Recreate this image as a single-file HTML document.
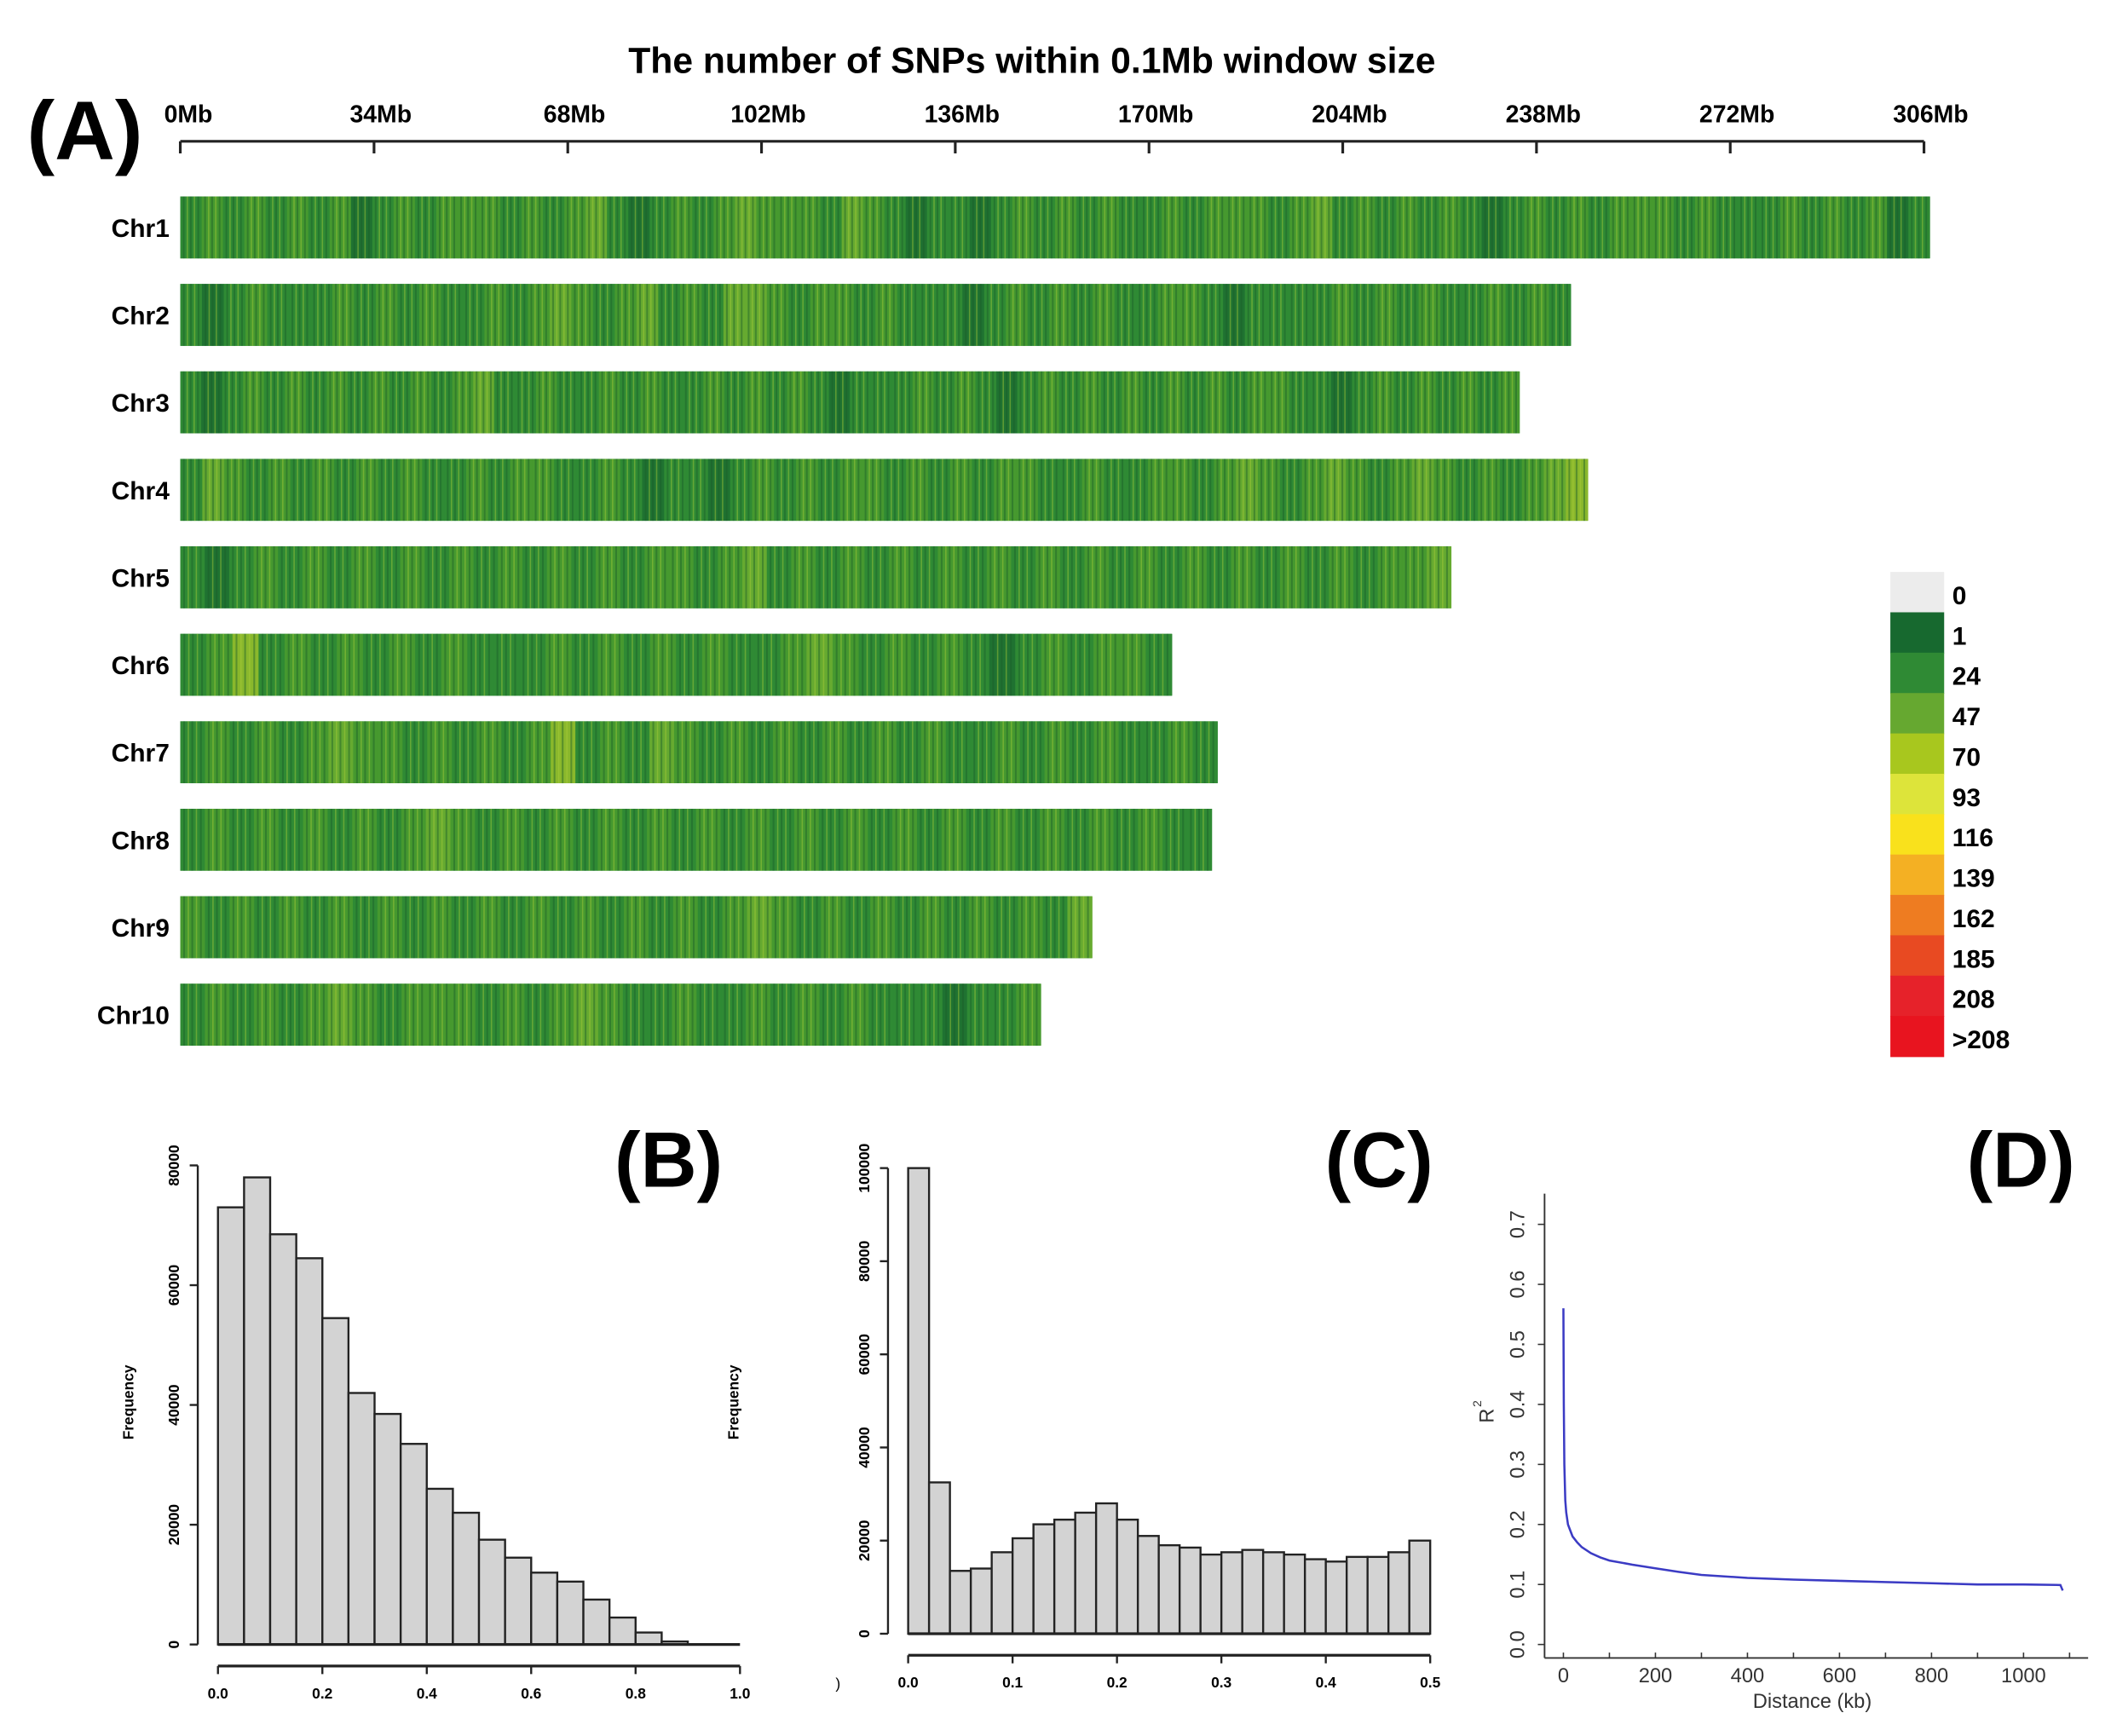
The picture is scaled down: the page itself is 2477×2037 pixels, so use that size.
<!DOCTYPE html>
<html><head><meta charset="utf-8"><style>
html,body{margin:0;padding:0;background:#fff;}
svg{display:block;font-family:"Liberation Sans",Arial,sans-serif;}
</style></head><body>
<svg id="fig" width="2477" height="2037" viewBox="0 0 1569 1290" preserveAspectRatio="none" xmlns="http://www.w3.org/2000/svg">
<rect width="1569" height="1290" fill="#fff"/>
<g id="panelA">
<text x="20" y="118" font-size="62" font-weight="bold">(A)</text>
<text x="767" y="54" font-size="27" font-weight="bold" text-anchor="middle">The number of SNPs within 0.1Mb window size</text>
<g id="axA"></g>
<g id="chroms"></g>
<g id="legend"></g>
</g>
<g id="panelB">
<text x="497" y="882" font-size="58" font-weight="bold" text-anchor="middle">(B)</text>
</g>
<g id="panelC">
<text x="1025" y="882" font-size="58" font-weight="bold" text-anchor="middle">(C)</text>
<text x="621" y="1255" font-size="11">)</text>
</g>
<g id="panelD">
<text x="1502" y="882" font-size="58" font-weight="bold" text-anchor="middle">(D)</text>
</g>
</svg>
<script>
// ---- Panel A data ----
const axisTicksMb = [0,34,68,102,136,170,204,238,272,306];
const chromNames = ["Chr1","Chr2","Chr3","Chr4","Chr5","Chr6","Chr7","Chr8","Chr9","Chr10"];
const chromLengthsMb = [307,244,235,247,223,174,182,181,160,151];
const chromDensity = [
"2323232312323332323421232343332432122123232322323332342323232123232333232223232312",
"2123222323232232343234232443233232221232323223321222232323223232",
"2123232323232342232232322323232122232321232323232323322123232323",
"2432323232322323322321221232323323232332232233234323432343232345",
"2123232323232323232332342323232323232323232323232334",
"23523232323222323232322343232321232332",
"232323433232323523243232323232322323232232",
"232323232343232323232323232323232323232322",
"3232323232323232323232343232323232324",
"23232343233323234322322323232221223"
];
const legendLabels = ["0","1","24","47","70","93","116","139","162","185","208",">208"];
const legendColors = ["#ececec","#17692f","#2f8a34","#66a830","#a8c71e","#dde43a","#f9e11c","#f4b023","#ee7c21","#e84a22","#e6222a","#e8141f"];
// ---- Panel B data ----
const bCounts = [73000,78000,68500,64500,54500,42000,38500,33500,26000,22000,17500,14500,12000,10500,7500,4500,2000,500,0,0];
const bYTicks = [0,20000,40000,60000,80000];
const bXTicks = ["0.0","0.2","0.4","0.6","0.8","1.0"];
// ---- Panel C data ----
const cCounts = [100000,32500,13500,14000,17500,20500,23500,24500,26000,28000,24500,21000,19000,18500,17000,17500,18000,17500,17000,16000,15500,16500,16500,17500,20000];
const cYTicks = [0,20000,40000,60000,80000,100000];
const cXTicks = ["0.0","0.1","0.2","0.3","0.4","0.5"];
// ---- Panel D data ----
const dDist = [0,1,2,4,6,10,15,20,30,40,60,80,100,150,200,250,300,400,500,600,700,800,900,1000,1080,1085];
const dR2 = [0.56,0.4,0.3,0.24,0.22,0.2,0.19,0.18,0.17,0.162,0.152,0.145,0.14,0.133,0.127,0.121,0.116,0.111,0.108,0.106,0.104,0.102,0.1,0.1,0.099,0.09];
const dYTicks = ["0.0","0.1","0.2","0.3","0.4","0.5","0.6","0.7"];
const dXTicks = [0,200,400,600,800,1000];

const NS="http://www.w3.org/2000/svg";
function mk(parent,tag,attrs,txt){const e=document.createElementNS(NS,tag);for(const k in attrs)e.setAttribute(k,attrs[k]);if(txt!==undefined)e.textContent=txt;parent.appendChild(e);return e;}

const xA = mb => 134 + mb*(1296/306);
const axA=document.getElementById('axA');
let l=mk(axA,'line',{x1:134,y1:105,x2:1430,y2:105,stroke:'#222','stroke-width':2});


axisTicksMb.forEach(v=>{
 let t=mk(axA,'line',{x1:xA(v),y1:105,x2:xA(v),y2:114,stroke:'#222','stroke-width':2});
 
 
 let tx=mk(axA,'text',{x:xA(v)+(v===0?6:5),y:91,'font-size':18,'font-weight':'bold','text-anchor':'middle'},v+'Mb');
 
 
});
const dcol={"1":"#1f7231","2":"#2f8a34","3":"#46992f","4":"#66aa30","5":"#8ab82c"};
const cg=document.getElementById('chroms');
chromNames.forEach((n,i)=>{
 const y=146+i*65;
 const g=mk(cg,'g',{});
 
 
 let lb=mk(g,'text',{x:126,y:y+30,'font-size':19,'font-weight':'bold','text-anchor':'end'},n);
 
 
 const x0=134,x1=xA(chromLengthsMb[i]);
 mk(g,'rect',{x:x0,y:y,width:x1-x0,height:46,fill:'#33903a'});
 const s=chromDensity[i];const w=(x1-x0)/s.length;
 for(let k=0;k<s.length;k++){
  const r=mk(g,'rect',{x:x0+k*w,y:y,width:w+0.3,height:46,fill:dcol[s[k]]});
  
  
 }
 for(let k=0;k<s.length;k++){
  [0.12,0.45,0.8].forEach(f=>mk(g,'rect',{x:x0+k*w+w*f,y:y,width:1.3,height:46,fill:'#1a5e2a',opacity:0.45}));
  [0.3,0.63].forEach(f=>mk(g,'rect',{x:x0+k*w+w*f,y:y,width:1,height:46,fill:'#a8cc3a',opacity:0.45}));
 }
});
const lg=document.getElementById('legend');
legendLabels.forEach((t,i)=>{
 const y=425+i*30;
 let r=mk(lg,'rect',{x:1405,y:y,width:40,height:30.5,fill:legendColors[i]});
 
 
 let tx=mk(lg,'text',{x:1451,y:y+24,'font-size':19,'font-weight':'bold'},t);
 
 
});

function hist(gid,counts,xL,xR,y0,yPerUnit,yTicks,axisX,xAxisY,xTicks,freqX){
 const g=document.getElementById(gid);
 const w=(xR-xL)/counts.length;
 counts.forEach((c,i)=>{
  const h=c*yPerUnit;
  const r=mk(g,'rect',{x:xL+i*w,y:y0-h,width:w,height:h,fill:'#d3d3d3',stroke:'#222','stroke-width':1.5});
  
  
 });
 mk(g,'line',{x1:xL,y1:y0,x2:xR,y2:y0,stroke:'#222','stroke-width':2});
 const ymax=yTicks[yTicks.length-1];
 let ya=mk(g,'line',{x1:axisX,y1:y0,x2:axisX,y2:y0-ymax*yPerUnit,stroke:'#222','stroke-width':1.5});
 
 
 yTicks.forEach(v=>{
  const y=y0-v*yPerUnit;
  mk(g,'line',{x1:axisX-6,y1:y,x2:axisX,y2:y,stroke:'#222','stroke-width':1.5});
  let t=mk(g,'text',{x:axisX-14,y:y,'font-size':11,'font-weight':'bold','text-anchor':'middle',transform:`rotate(-90 ${axisX-14} ${y})`},String(v));
  
  
 });
 let xa=mk(g,'line',{x1:xL,y1:xAxisY,x2:xR,y2:xAxisY,stroke:'#222','stroke-width':2});
 
 
 xTicks.forEach((t,i)=>{
  const x=xL+i*(xR-xL)/(xTicks.length-1);
  mk(g,'line',{x1:x,y1:xAxisY,x2:x,y2:xAxisY+6,stroke:'#222','stroke-width':1.5});
  let tx=mk(g,'text',{x:x,y:xAxisY+24,'font-size':11,'font-weight':'bold','text-anchor':'middle'},t);
  
  
 });
 let f=mk(g,'text',{x:freqX,y:1042,'font-size':11,'font-weight':'bold','text-anchor':'middle',transform:`rotate(-90 ${freqX} 1042)`},'Frequency');
 
 
}
hist('panelB',bCounts,162,550,1222,356/80000,bYTicks,147,1238,bXTicks,99);
hist('panelC',cCounts,675,1063,1214,346/100000,cYTicks,660,1230,cXTicks,549);

const gD=document.getElementById('panelD');
const xD=d=>1162+d*(342/1000);
const yD=r=>1222-r*446;
let yax=mk(gD,'line',{x1:1148,y1:887,x2:1148,y2:1232,stroke:'#333','stroke-width':1.2});


dYTicks.forEach(t=>{
 const y=yD(parseFloat(t));
 mk(gD,'line',{x1:1143,y1:y,x2:1148,y2:y,stroke:'#333','stroke-width':1});
 let tx=mk(gD,'text',{x:1133,y:y,'font-size':15,fill:'#333','text-anchor':'middle',transform:`rotate(-90 1133 ${y})`},t);
 
 
});
let xax=mk(gD,'line',{x1:1148,y1:1232,x2:1552,y2:1232,stroke:'#333','stroke-width':1.2});


for(let d=0;d<=1100;d+=100){mk(gD,'line',{x1:xD(d),y1:1228,x2:xD(d),y2:1232,stroke:'#333','stroke-width':1});}
dXTicks.forEach(d=>{
 let tx=mk(gD,'text',{x:xD(d),y:1250,'font-size':15,fill:'#333','text-anchor':'middle'},String(d));
 
 
});
let xt=mk(gD,'text',{x:1347,y:1269,'font-size':15,fill:'#333','text-anchor':'middle'},'Distance (kb)');


let yt=mk(gD,'text',{x:1110,y:1052,'font-size':15,fill:'#333','text-anchor':'middle',transform:'rotate(-90 1110 1052)'},'R');


mk(gD,'text',{x:1101,y:1043,'font-size':9,fill:'#333','text-anchor':'middle',transform:'rotate(-90 1101 1043)'},'2');
const pts=dDist.map((d,i)=>xD(d).toFixed(1)+','+yD(dR2[i]).toFixed(1)).join(' ');
let pl=mk(gD,'polyline',{points:pts,fill:'none',stroke:'#3b3bc4','stroke-width':1.6});


</script>
</body></html>
